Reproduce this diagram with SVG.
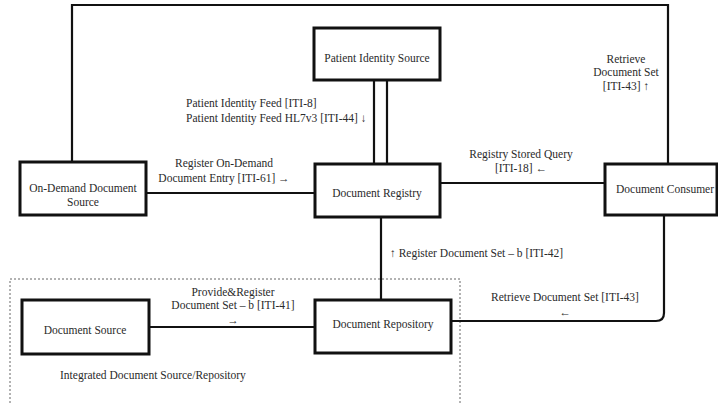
<svg xmlns="http://www.w3.org/2000/svg" width="718" height="404" viewBox="0 0 718 404">
  <style>
    .box { fill: #fff; stroke: #111; stroke-width: 3; }
    .ln { fill: none; stroke: #111; stroke-width: 2.2; }
    .grp { fill: none; stroke: #666; stroke-width: 1; stroke-dasharray: 2 2; }
    text { font-family: "Liberation Serif", "Times New Roman", "DejaVu Serif", serif; font-size: 11.5px; fill: #2a2a2a; }
    .c { text-anchor: middle; }
  </style>
  <rect width="718" height="404" fill="#fff"/>

  <!-- integrated source/repository grouping -->
  <rect class="grp" x="10" y="279" width="450" height="140"/>
  <text x="60" y="379">Integrated Document Source/Repository</text>

  <g id="connectors">
    <!-- outer loop: On-Demand source to consumer -->
    <path class="ln" d="M72 162 V5 H668 V164"/>
    <!-- identity feed (double line) -->
    <path class="ln" d="M374 80 V164 M387 80 V164"/>
    <!-- on-demand entry -->
    <path class="ln" d="M146 193 H315"/>
    <!-- stored query -->
    <path class="ln" d="M440 183 H605"/>
    <!-- register document set -->
    <path class="ln" d="M381 217 V300"/>
    <!-- retrieve document set -->
    <path class="ln" d="M664 215 V313 Q664 321 656 321 H451"/>
    <!-- provide and register -->
    <path class="ln" d="M149 327 H315"/>
  </g>

  <g id="patient-identity-source">
    <rect class="box" x="314" y="28" width="126" height="52"/>
    <text class="c" x="377" y="62">Patient Identity Source</text>
  </g>
  <g id="on-demand-document-source">
    <rect class="box" x="20" y="162" width="126" height="53"/>
    <text class="c" x="83" y="192">On-Demand Document</text>
    <text class="c" x="83" y="206">Source</text>
  </g>
  <g id="document-registry">
    <rect class="box" x="315" y="164" width="125" height="53"/>
    <text class="c" x="377" y="197">Document Registry</text>
  </g>
  <g id="document-consumer">
    <rect class="box" x="605" y="164" width="112" height="51"/>
    <text class="c" x="665" y="193">Document Consumer</text>
  </g>
  <g id="document-source">
    <rect class="box" x="22" y="300" width="127" height="54"/>
    <text class="c" x="85" y="334">Document Source</text>
  </g>
  <g id="document-repository">
    <rect class="box" x="315" y="300" width="136" height="53"/>
    <text class="c" x="383" y="328">Document Repository</text>
  </g>

  <g id="labels">
    <text x="186" y="107">Patient Identity Feed [ITI-8]</text>
    <text x="186" y="122">Patient Identity Feed HL7v3 [ITI-44] ↓</text>
    <text class="c" x="224" y="167">Register On-Demand</text>
    <text class="c" x="224" y="182">Document Entry [ITI-61] →</text>
    <text class="c" x="521" y="158">Registry Stored Query</text>
    <text class="c" x="521" y="172">[ITI-18] ←</text>
    <text class="c" x="626" y="63">Retrieve</text>
    <text class="c" x="626" y="76">Document Set</text>
    <text class="c" x="626" y="90">[ITI-43] ↑</text>
    <text x="390" y="257">↑ Register Document Set – b [ITI-42]</text>
    <text class="c" x="565" y="301">Retrieve Document Set [ITI-43]</text>
    <text class="c" x="565" y="316">←</text>
    <text class="c" x="233" y="296">Provide&amp;Register</text>
    <text class="c" x="233" y="309">Document Set – b [ITI-41]</text>
    <text class="c" x="233" y="324">→</text>
  </g>
</svg>
